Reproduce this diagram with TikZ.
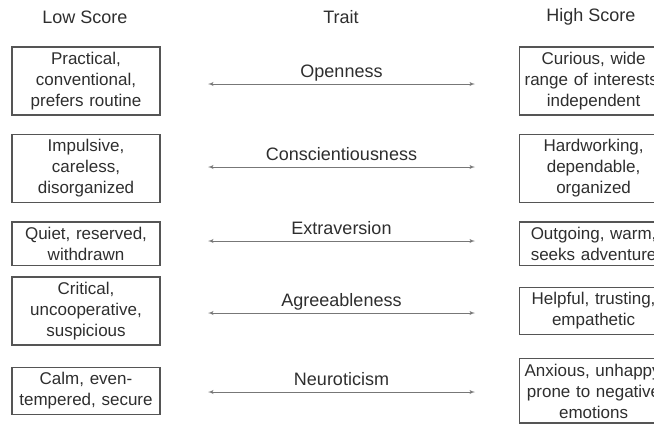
\documentclass[tikz,border=0pt]{standalone}
\usepackage{fontspec}
\setmainfont{Liberation Sans}
\usetikzlibrary{positioning,arrows}
\definecolor{txtgray}{HTML}{2E2E2E}
\definecolor{boxgray}{HTML}{555555}
\definecolor{arrgray}{HTML}{777777}
\tikzstyle{sbox}=[rectangle, draw=boxgray, line width=1.6pt, text=txtgray,
 text width=138pt, inner xsep=5pt, inner ysep=5pt, align=center,
 font=\fontsize{17}{21}\selectfont]
\tikzstyle{hbox}=[rectangle, text=txtgray, font=\fontsize{18}{21}\selectfont]
\tikzstyle{tline}=[<->, >=latex', draw=arrgray, line width=0.9pt]
\tikzstyle{tlab}=[text=txtgray, font=\fontsize{18}{21}\selectfont, anchor=base, yshift=7pt]

\begin{document}
\begin{tikzpicture}[x=1pt,y=-1pt]
\useasboundingbox (0,0) rectangle (654,424);
\clip (0,0) rectangle (654,424);

\node (LOWO) [sbox] at (86,81) {Practical,\\conventional,\\prefers routine};
\node (LOWC) [sbox,below=18pt of LOWO] {Impulsive,\\careless,\\disorganized};
\node (LOWE) [sbox,below=18pt of LOWC] {Quiet, reserved,\\withdrawn};
\node (LOWA) [sbox,below=10pt of LOWE] {Critical,\\uncooperative,\\suspicious};
\node (LOWN) [sbox,below=21pt of LOWA] {Calm, even-\\tempered, secure};

\node (HIGHO) [sbox,right=358pt of LOWO] {Curious, wide\\\mbox{range of interests,}\\independent};
\node (HIGHC) [sbox,right=358pt of LOWC] {Hardworking,\\dependable,\\organized};
\node (HIGHE) [sbox,right=358pt of LOWE] {\mbox{Outgoing, warm,}\\\mbox{seeks adventure}};
\node (HIGHA) [sbox,right=358pt of LOWA] {\mbox{Helpful, trusting,}\\empathetic};
\node (HIGHN) [sbox,right=358pt of LOWN] {\mbox{Anxious, unhappy,}\\\mbox{prone to negative}\\emotions};

\node (LOWH) [hbox] at (85,17) {Low Score};
\node (TRAITH) [hbox] at (341,17) {Trait};
\node (HIGHH) [hbox] at (591,17) {High Score};

\coordinate (LO) at (208,84);  \coordinate (RO) at (475,84);
\coordinate (LC) at (208,167); \coordinate (RC) at (475,167);
\coordinate (LE) at (208,241); \coordinate (RE) at (475,241);
\coordinate (LA) at (208,313); \coordinate (RA) at (475,313);
\coordinate (LN) at (208,392); \coordinate (RN) at (475,392);

 \draw[tline] (LO) -- (RO) node[tlab,midway] {Openness};
 \draw[tline] (LC) -- (RC) node[tlab,midway] {Conscientiousness};
 \draw[tline] (LE) -- (RE) node[tlab,midway] {Extraversion};
 \draw[tline] (LA) -- (RA) node[tlab,midway] {Agreeableness};
 \draw[tline] (LN) -- (RN) node[tlab,midway] {Neuroticism};

\end{tikzpicture}
\end{document}
